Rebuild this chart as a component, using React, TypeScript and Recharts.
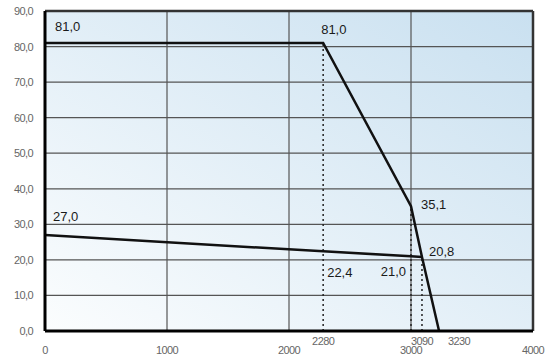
import React from 'react';
import { LineChart, Line, XAxis, YAxis, CartesianGrid, ReferenceLine, LabelList } from 'recharts';

// power curve (upper) and second curve (lower)
const upperX = [0, 2280, 3000, 3090, 3230];
const upperY = [81.0, 81.0, 35.1, 20.8, 0];
const lowerX = [0, 2280, 3000, 3090];
const lowerY = [27.0, 22.4, 21.0, 20.8];

const xTicks = [0, 1000, 2000, 2280, 3000, 3090, 3230, 4000];
const yTicks = [0, 10, 20, 30, 40, 50, 60, 70, 80, 90];

// dotted drop lines
const dropX = [2280, 3000, 3090];
const dropY = [81.0, 35.1, 20.8];

const upperData = upperX.map((x, i) => ({ x, y: upperY[i] }));
const lowerData = lowerX.map((x, i) => ({ x, y: lowerY[i] }));

const fmt = (v: number) => v.toFixed(1).replace('.', ',');

// label placement per point index
const upperLabelPos: any[] = [
  { dx: 10, dy: -12, anchor: 'start' },
  { dx: -2, dy: -9, anchor: 'start' },
  { dx: 10, dy: 3, anchor: 'start' },
  null,
  null,
];
const lowerLabelPos: any[] = [
  { dx: 8, dy: -14, anchor: 'start' },
  { dx: 4, dy: 26, anchor: 'start' },
  { dx: -5, dy: 20, anchor: 'end' },
  { dx: 7, dy: -1, anchor: 'start' },
];

const makeLabel = (pos: any[]) => (props: any) => {
  const { x, y, value, index } = props;
  const p = pos[index];
  if (!p) return null;
  return (
    <text
      x={x + p.dx}
      y={y + p.dy}
      textAnchor={p.anchor}
      fontSize={13}
      fill="#1a1a1a"
      fontFamily="'Liberation Sans', Arial, sans-serif"
    >
      {fmt(value)}
    </text>
  );
};

const raised = [2280, 3090, 3230];

const XTick = (props: any) => {
  const { x, y, payload } = props;
  const v = payload.value;
  const up = raised.includes(v);
  const dx = v === 3230 ? 20 : 0;
  return (
    <text
      x={x + dx}
      y={y + (up ? 14 : 23)}
      textAnchor="middle"
      fontSize={11}
      fill="#666"
      letterSpacing={-0.6}
      fontFamily="'Liberation Sans', Arial, sans-serif"
    >
      {v}
    </text>
  );
};

const YTick = (props: any) => {
  const { y, payload } = props;
  return (
    <text
      x={33}
      y={y + 4}
      textAnchor="end"
      fontSize={11}
      fill="#666"
      letterSpacing={-0.6}
      fontFamily="'Liberation Sans', Arial, sans-serif"
    >
      {fmt(payload.value)}
    </text>
  );
};

export default function App() {
  return (
    <div style={{ position: 'absolute', left: 0, top: 0, width: 548, height: 360, background: '#fff' }}>
      <LineChart width={548} height={360} margin={{ top: 11, right: 15, bottom: 0, left: 0 }}>
        <defs>
          <linearGradient id="bg" x1="0" y1="1" x2="1" y2="0">
            <stop offset="0%" stopColor="#fbfdfe" />
            <stop offset="100%" stopColor="#c9e0f0" />
          </linearGradient>
        </defs>
        <CartesianGrid
          fill="url(#bg)"
          stroke="#555"
          strokeWidth={1.2}
          verticalPoints={undefined}
          horizontalValues={yTicks}
          verticalValues={[1000, 2000, 3000]}
        />
        <XAxis
          type="number"
          dataKey="x"
          domain={[0, 4000]}
          ticks={xTicks}
          interval={0}
          tickLine={false}
          tickSize={0}
          tickMargin={0}
          height={29}
          axisLine={{ stroke: '#000', strokeWidth: 3 }}
          tick={<XTick />}
          allowDuplicatedCategory={false}
        />
        <YAxis
          type="number"
          domain={[0, 90]}
          ticks={yTicks}
          interval={0}
          width={45}
          tickLine={false}
          axisLine={{ stroke: '#000', strokeWidth: 3 }}
          tick={<YTick />}
        />
        <ReferenceLine y={90} stroke="#333" strokeWidth={2.5} />
        <ReferenceLine x={4000} stroke="#333" strokeWidth={2.5} />
        {dropX.map((dx, i) => (
          <ReferenceLine
            key={dx}
            segment={[{ x: dx, y: 0 }, { x: dx, y: dropY[i] }]}
            stroke="#222"
            strokeWidth={1.5}
            strokeDasharray="2 3"
          />
        ))}
        <Line
          data={lowerData}
          dataKey="y"
          type="linear"
          stroke="#111"
          strokeWidth={2.5}
          dot={false}
          isAnimationActive={false}
        >
          <LabelList dataKey="y" content={makeLabel(lowerLabelPos)} />
        </Line>
        <Line
          data={upperData}
          dataKey="y"
          type="linear"
          stroke="#111"
          strokeWidth={2.5}
          dot={false}
          isAnimationActive={false}
        >
          <LabelList dataKey="y" content={makeLabel(upperLabelPos)} />
        </Line>
      </LineChart>
    </div>
  );
}
